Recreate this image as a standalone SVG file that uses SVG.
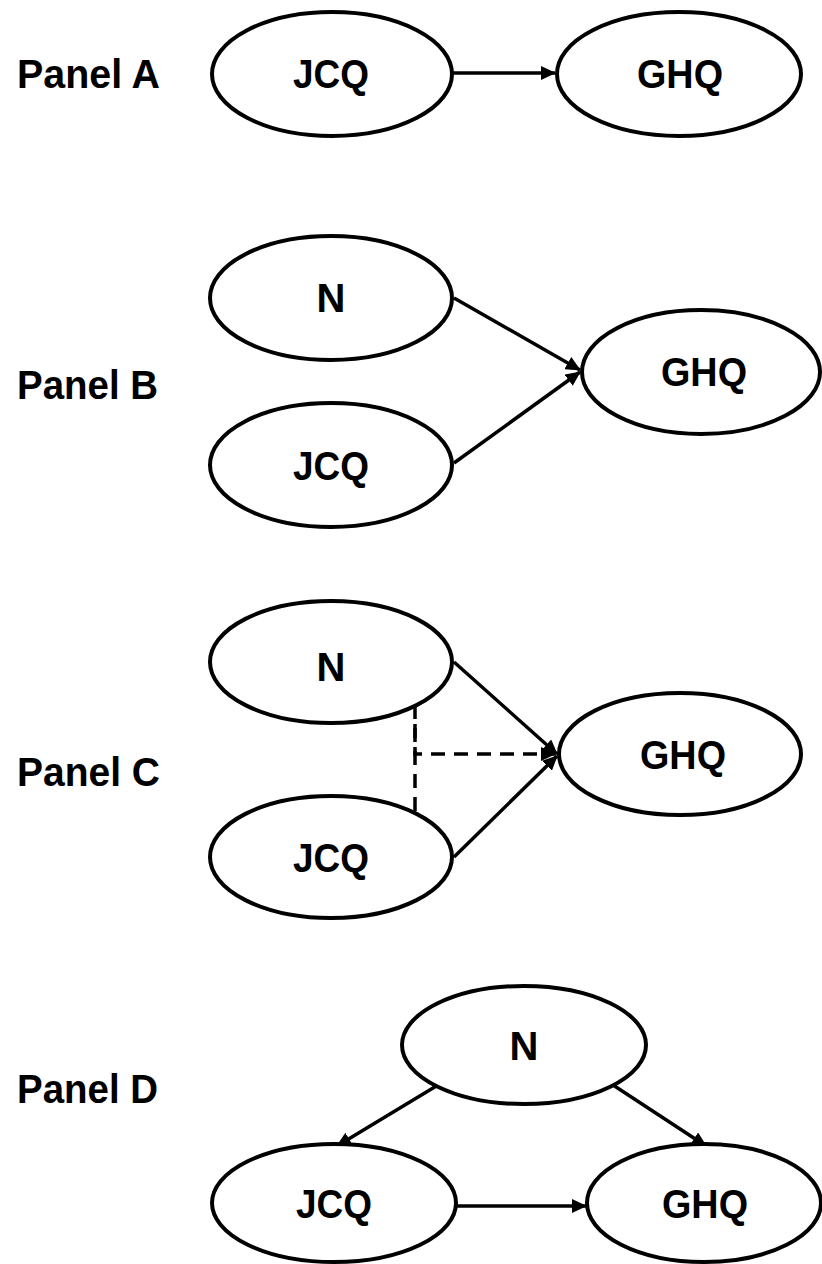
<svg xmlns="http://www.w3.org/2000/svg" width="822" height="1264" viewBox="0 0 822 1264">
<defs>
<style>
.n{fill:#fff;stroke:#000;stroke-width:4}
.t{font-family:"Liberation Sans",Arial,sans-serif;font-weight:bold;font-size:40px;fill:#000;text-anchor:middle}
.p{font-family:"Liberation Sans",Arial,sans-serif;font-weight:bold;font-size:40px;fill:#000}
.e{fill:none;stroke:#000;stroke-width:3.5}
.d{fill:none;stroke:#000;stroke-width:3.5;stroke-dasharray:14 9}
</style>
<marker id="ahL" markerWidth="15" markerHeight="14" refX="14" refY="7" orient="auto" markerUnits="userSpaceOnUse" viewBox="0 0 15 14">
<path d="M0,0 L15,7 L0,14 z" fill="#000"/>
</marker>
</defs>
<rect width="822" height="1264" fill="#fff"/>
<g id="labels">
<text class="p" x="17" y="88" textLength="143" lengthAdjust="spacingAndGlyphs">Panel A</text>
<text class="p" x="17" y="399" textLength="141" lengthAdjust="spacingAndGlyphs">Panel B</text>
<text class="p" x="17" y="786" textLength="143" lengthAdjust="spacingAndGlyphs">Panel C</text>
<text class="p" x="17" y="1103" textLength="141" lengthAdjust="spacingAndGlyphs">Panel D</text>
</g>
<g id="connectors">
<line class="e" x1="452" y1="73" x2="555" y2="73" marker-end="url(#ahL)"/>
<line class="e" x1="454" y1="298" x2="580" y2="370" marker-end="url(#ahL)"/>
<line class="e" x1="454" y1="463" x2="580" y2="372" marker-end="url(#ahL)"/>
<line class="e" x1="454" y1="662" x2="557" y2="754" marker-end="url(#ahL)"/>
<line class="e" x1="454" y1="857" x2="557" y2="756" marker-end="url(#ahL)"/>
<path class="d" d="M415,705 V815"/>
<path class="d" d="M415,724 V754 H555" marker-end="url(#ahL)"/>
<line class="e" x1="438" y1="1085" x2="337" y2="1146" marker-end="url(#ahL)"/>
<line class="e" x1="613" y1="1085" x2="706" y2="1146" marker-end="url(#ahL)"/>
<line class="e" x1="457" y1="1206" x2="586" y2="1206" marker-end="url(#ahL)"/>
</g>
<g id="A-JCQ"><ellipse class="n" cx="332" cy="74" rx="120" ry="62"/><text class="t" x="331" y="88" textLength="76" lengthAdjust="spacingAndGlyphs">JCQ</text></g>
<g id="A-GHQ"><ellipse class="n" cx="679" cy="74" rx="122" ry="62"/><text class="t" x="680" y="88" textLength="86" lengthAdjust="spacingAndGlyphs">GHQ</text></g>
<g id="B-N"><ellipse class="n" cx="331" cy="298" rx="121" ry="62"/><text class="t" x="331" y="312">N</text></g>
<g id="B-JCQ"><ellipse class="n" cx="331" cy="465" rx="121" ry="62"/><text class="t" x="331" y="480" textLength="76" lengthAdjust="spacingAndGlyphs">JCQ</text></g>
<g id="B-GHQ"><ellipse class="n" cx="701" cy="372" rx="119" ry="62"/><text class="t" x="704" y="386" textLength="86" lengthAdjust="spacingAndGlyphs">GHQ</text></g>
<g id="C-N"><ellipse class="n" cx="331" cy="662" rx="121" ry="61"/><text class="t" x="331" y="681">N</text></g>
<g id="C-JCQ"><ellipse class="n" cx="331" cy="857" rx="121" ry="61"/><text class="t" x="331" y="872" textLength="76" lengthAdjust="spacingAndGlyphs">JCQ</text></g>
<g id="C-GHQ"><ellipse class="n" cx="680" cy="754" rx="121" ry="61"/><text class="t" x="683" y="769" textLength="86" lengthAdjust="spacingAndGlyphs">GHQ</text></g>
<g id="D-N"><ellipse class="n" cx="524" cy="1045" rx="122" ry="59"/><text class="t" x="524" y="1060">N</text></g>
<g id="D-JCQ"><ellipse class="n" cx="334" cy="1203" rx="122" ry="59"/><text class="t" x="334" y="1218" textLength="76" lengthAdjust="spacingAndGlyphs">JCQ</text></g>
<g id="D-GHQ"><ellipse class="n" cx="704" cy="1203" rx="117" ry="59"/><text class="t" x="705" y="1218" textLength="86" lengthAdjust="spacingAndGlyphs">GHQ</text></g>
</svg>
